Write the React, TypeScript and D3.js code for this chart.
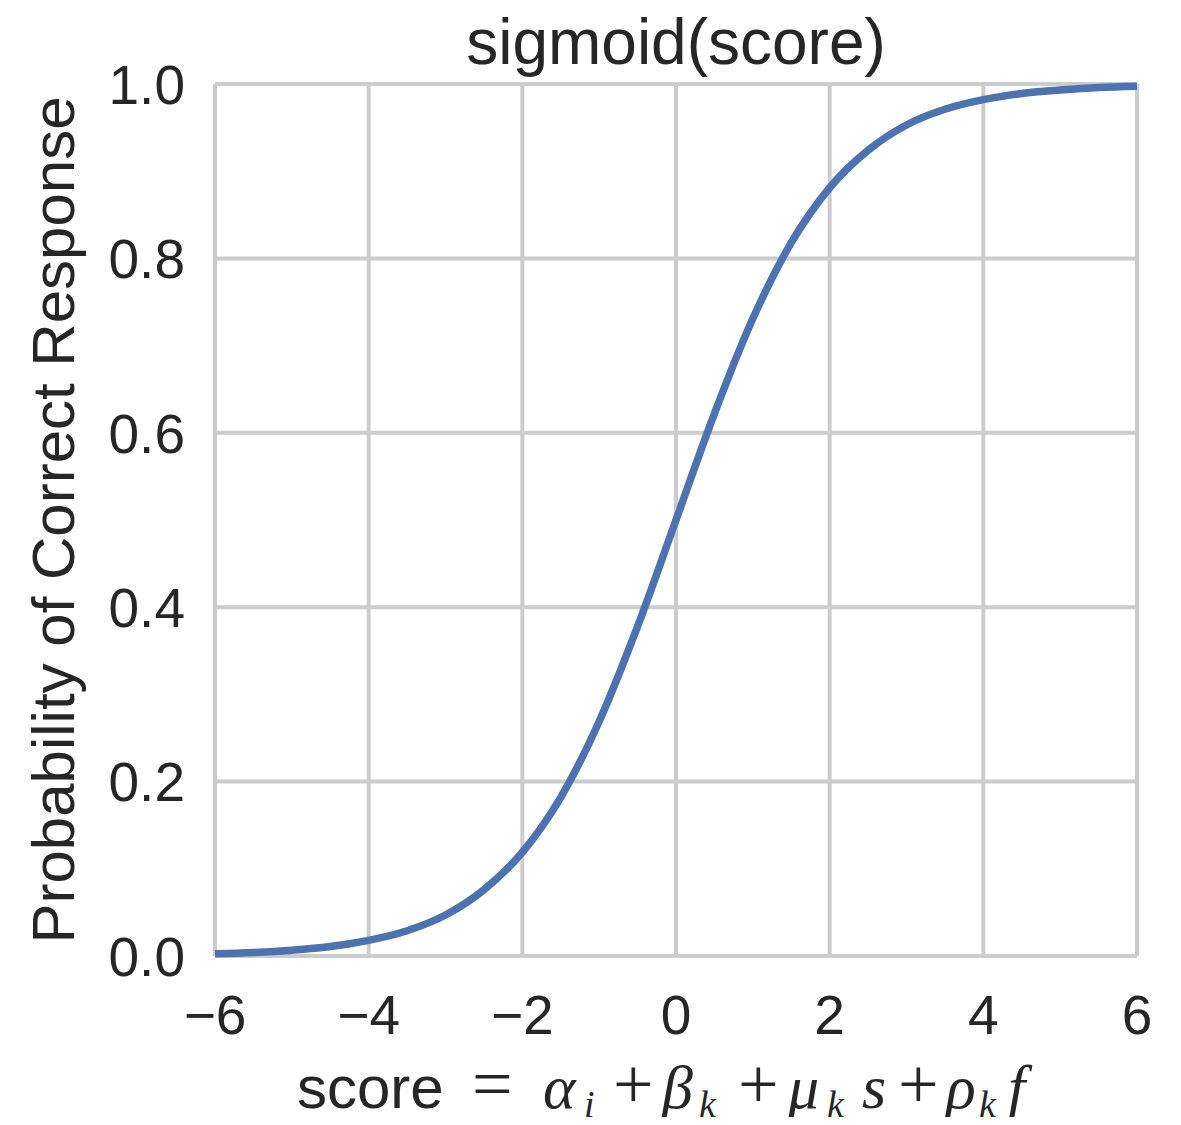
import React from 'react';
import * as d3 from 'd3';

// values
const scores = [-6, -5.5, -5, -4.5, -4, -3.5, -3, -2.5, -2, -1.5, -1, -0.5, 0, 0.5, 1, 1.5, 2, 2.5, 3, 3.5, 4, 4.5, 5, 5.5, 6];
const probs = [0.0025, 0.004, 0.0067, 0.011, 0.018, 0.029, 0.047, 0.076, 0.119, 0.182, 0.269, 0.378, 0.5, 0.622, 0.731, 0.818, 0.881, 0.924, 0.953, 0.971, 0.982, 0.989, 0.993, 0.996, 0.9975];
const xTicks = [-6, -4, -2, 0, 2, 4, 6];
const yTicks = [0, 0.2, 0.4, 0.6, 0.8, 1.0];

// pieces of the x label formula: [text, x, italic, subscript]
const formula: [string, number, boolean, boolean][] = [
  ['=', 472, false, false],
  ['α', 543, true, false],
  ['i', 584, true, true],
  ['+', 613, false, false],
  ['β', 662, true, false],
  ['k', 699, true, true],
  ['+', 738, false, false],
  ['μ', 788, true, false],
  ['k', 827, true, true],
  ['s', 862, true, false],
  ['+', 898, false, false],
  ['ρ', 946, true, false],
  ['k', 979, true, true],
  ['f', 1008, true, false],
];

const App = () => {
  const width = 1181;
  const height = 1125;
  const margin = { top: 84, right: 44, bottom: 169, left: 215 };
  const innerW = width - margin.left - margin.right;
  const innerH = height - margin.top - margin.bottom;

  const x = d3.scaleLinear().domain([-6, 6]).range([0, innerW]);
  const y = d3.scaleLinear().domain([0, 1]).range([innerH, 0]);

  const line = d3.line<number>()
    .x((_, i) => x(scores[i]))
    .y(d => y(d))
    .curve(d3.curveMonotoneX);

  const sans = 'Liberation Sans, Arial, sans-serif';
  const serif = 'Liberation Serif, DejaVu Serif, serif';

  return (
    <svg width={width} height={height} style={{ display: 'block', margin: -8 }}>
      <rect width={width} height={height} fill="#fff" />
      <g transform={`translate(${margin.left},${margin.top})`}>
        {/* grid */}
        {xTicks.map(t => (
          <line key={'gx' + t} x1={x(t)} x2={x(t)} y1={0} y2={innerH} stroke="#cccccc" strokeWidth={4} />
        ))}
        {yTicks.map(t => (
          <line key={'gy' + t} x1={0} x2={innerW} y1={y(t)} y2={y(t)} stroke="#cccccc" strokeWidth={4} />
        ))}
        <path d={line(probs) || ''} fill="none" stroke="#4c72b0" strokeWidth={7.5} />

        {/* tick labels */}
        {xTicks.map(t => (
          <text key={'tx' + t} x={x(t)} y={innerH + 78} textAnchor="middle" fontFamily={sans} fontSize={55} fill="#262626">
            {t < 0 ? '\u2212' + Math.abs(t) : t}
          </text>
        ))}
        {yTicks.map(t => (
          <text key={'ty' + t} x={-30} y={y(t)} dy="0.36em" textAnchor="end" fontFamily={sans} fontSize={55} fill="#262626">
            {t.toFixed(1)}
          </text>
        ))}

        {/* title */}
        <text x={innerW / 2} y={-20} textAnchor="middle" fontFamily={sans} fontSize={64} fill="#262626">sigmoid(score)</text>

        {/* y label */}
        <text transform={`translate(${-141},${innerH / 2}) rotate(-90)`} textAnchor="middle" fontFamily={sans} fontSize={60} fill="#262626">
          Probability of Correct Response
        </text>
      </g>

      {/* x label */}
      <text x={297} y={1108} fontFamily={sans} fontSize={60} fill="#262626">score</text>
      {formula.map(([s, px, it, sub], i) => (
        <text key={'f' + i} x={px} y={sub ? 1117 : 1108} fontFamily={serif} fontStyle={it ? 'italic' : 'normal'}
          fontSize={sub ? 38 : (s === '=' || s === '+' ? 72 : 62)} fill="#262626">
          {s}
        </text>
      ))}
    </svg>
  );
};

export default App;
